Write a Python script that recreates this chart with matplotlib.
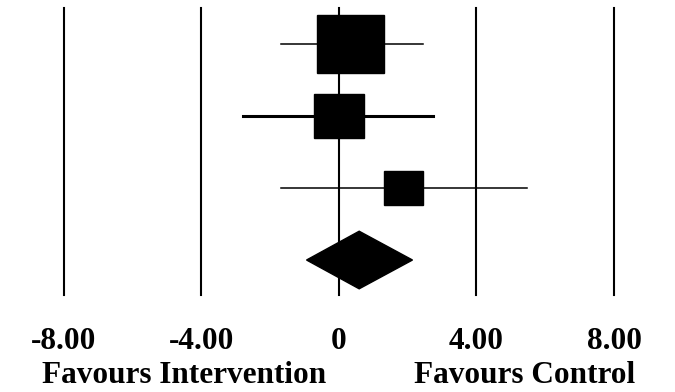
import matplotlib.pyplot as plt
from matplotlib.patches import Rectangle, Polygon

# study rows (top to bottom)
estimates = [0.34, 0.0, 1.88]
lower = [-1.69, -2.79, -1.69]
upper = [2.45, 2.74, 5.46]
weights = [53, 29, 18]
ci_widths = [1.1, 2.2, 1.1]

# pooled estimate
pooled = 0.59
pooled_lo = -0.94
pooled_hi = 2.14

ticks = [-8, -4, 0, 4, 8]
tick_labels = ["-8.00", "-4.00", "0", "4.00", "8.00"]

fig = plt.figure(figsize=(6.75, 3.92), dpi=100)
ax = fig.add_axes([0, 0, 1, 1])
ax.set_xlim(-9.85, 9.77)
ax.set_ylim(5.833, 0.389)
ax.axis("off")

px_x = 19.62 / 675  # data x units per pixel
px_y = 5.444 / 392  # data y units per pixel

for t in ticks:
    ax.plot([t, t], [0.5, 4.49], color="black", lw=1.5, zorder=1)

for i, (est, lo, hi, w, lw) in enumerate(zip(estimates, lower, upper, weights, ci_widths)):
    y = i + 1
    ax.plot([lo, hi], [y, y], color="black", lw=lw, zorder=2)
    side = 9.2 * w ** 0.5
    bw = side * px_x
    bh = side * 0.88 * px_y
    ax.add_patch(Rectangle((est - bw / 2, y - bh / 2), bw, bh, color="black", zorder=3))

yd = 4
hd = 0.40
ax.add_patch(Polygon([(pooled_lo, yd), (pooled, yd - hd), (pooled_hi, yd), (pooled, yd + hd)],
                     closed=True, color="black", zorder=3))

font = dict(family="Liberation Serif", fontweight="bold", fontsize=22.5, color="black")
for t, lab in zip(ticks, tick_labels):
    ax.text(t, 5.236, lab, ha="center", va="baseline", **font)

ax.text(-4.5, 5.708, "Favours Intervention", ha="center", va="baseline", **font)
ax.text(5.4, 5.708, "Favours Control", ha="center", va="baseline", **font)

fig.savefig("out.png", dpi=100)
